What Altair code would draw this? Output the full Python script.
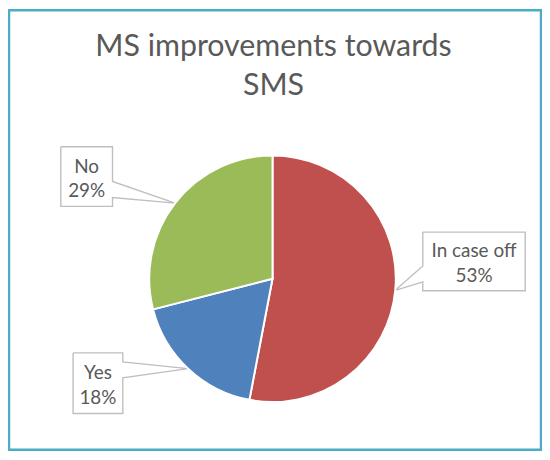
import math
import pandas as pd
import altair as alt

# ---- data ----
CATEGORIES = ["In case off", "Yes", "No"]
VALUES = [53, 18, 29]
COLORS = ["#C0504D", "#4F81BD", "#9BBB59"]
TITLE = "MS improvements towards\nSMS"

# ---- layout (pixels) ----
W, H = 535, 442          # plot area (frame)
CX, CY = 265, 270        # pie centre inside the frame
R = 124                  # pie radius
# label-box placement: angle nudge from the slice mid-angle (deg), distance (radii), box size (px)
LABEL_LAYOUT = {
    "In case off": dict(turn=-10.3, dist=1.64, w=103, h=59),
    "Yes": dict(turn=15.9, dist=1.65, w=50, h=61),
    "No": dict(turn=-9.0, dist=1.72, w=52, h=60),
}
TEXT_COLOR = "#595959"
BOX_COLOR = "#BFBFBF"
FONT = "Lato"

total = sum(VALUES)
pie_rows, text_rows, path_rows = [], [], []
start = 0.0
for i, (cat, v) in enumerate(zip(CATEGORIES, VALUES)):
    pie_rows.append(dict(cat=cat, value=v, idx=i, cx=0.0, cy=0.0))
    mid = (start + v / 2) / total * 2 * math.pi
    start += v
    lay = LABEL_LAYOUT[cat]
    # tip on the pie edge (px, y up)
    tx, ty = R * math.sin(mid), R * math.cos(mid)
    a = mid + math.radians(lay["turn"])
    bx, by = lay["dist"] * R * math.sin(a), lay["dist"] * R * math.cos(a)
    w, h = lay["w"], lay["h"]
    left, right, top, bottom = bx - w / 2, bx + w / 2, by + h / 2, by - h / 2
    lo, hi = ty - 8, ty + 8
    if lo < bottom + 9:
        lo, hi = bottom + 9, bottom + 25
    if hi > top - 9:
        lo, hi = top - 25, top - 9
    pts = [(left, top), (right, top)]
    if tx > right:
        pts += [(right, hi), (tx, ty), (right, lo)]
    pts += [(right, bottom), (left, bottom)]
    if tx < left:
        pts += [(left, lo), (tx, ty), (left, hi)]
    pts += [(left, top)]
    for k, (px, py) in enumerate(pts):
        path_rows.append(dict(cat=cat, k=k, x=px / R, y=py / R))
    text_rows.append(dict(cat=cat, x=bx / R, y=by / R, label=f"{cat}\n{v}%"))

pie_df = pd.DataFrame(pie_rows)
text_df = pd.DataFrame(text_rows)
path_df = pd.DataFrame(path_rows)
title_df = pd.DataFrame([dict(t=TITLE)])

xscale = alt.Scale(domain=[-CX / R, (W - CX) / R], nice=False, zero=False)
yscale = alt.Scale(domain=[-(H - CY) / R, CY / R], nice=False, zero=False)

pie = alt.Chart(pie_df).mark_arc(outerRadius=R, stroke="white", strokeWidth=2).encode(
    theta=alt.Theta("value:Q", stack=True),
    color=alt.Color("cat:N", scale=alt.Scale(domain=CATEGORIES, range=COLORS), legend=None),
    order=alt.Order("idx:Q"),
    x=alt.X("cx:Q", scale=xscale, axis=None),
    y=alt.Y("cy:Q", scale=yscale, axis=None),
)

callouts = alt.Chart(path_df).mark_line(color=BOX_COLOR, strokeWidth=1.4).encode(
    x=alt.X("x:Q", scale=xscale, axis=None),
    y=alt.Y("y:Q", scale=yscale, axis=None),
    detail="cat:N",
    order=alt.Order("k:Q"),
)

labels = alt.Chart(text_df).mark_text(
    font=FONT, fontSize=19, color=TEXT_COLOR, lineBreak="\n", lineHeight=25,
    align="center", baseline="middle", dy=-10,
).encode(
    x=alt.X("x:Q", scale=xscale, axis=None),
    y=alt.Y("y:Q", scale=yscale, axis=None),
    text="label:N",
)

title = alt.Chart(title_df).mark_text(
    font=FONT, fontSize=30.5, color=TEXT_COLOR, lineBreak="\n", lineHeight=39,
    align="center", baseline="top",
).encode(
    x=alt.value(CX + 1),
    y=alt.value(22),
    text="t:N",
)

chart = alt.layer(callouts, pie, labels, title).properties(
    width=W, height=H,
    padding=1,
    autosize=alt.AutoSizeParams(type="none"),
).configure(background="white").configure_view(stroke="#4BACC6", strokeWidth=2.5)

chart.save("out.html", embed_options={"renderer": "svg", "actions": False})
